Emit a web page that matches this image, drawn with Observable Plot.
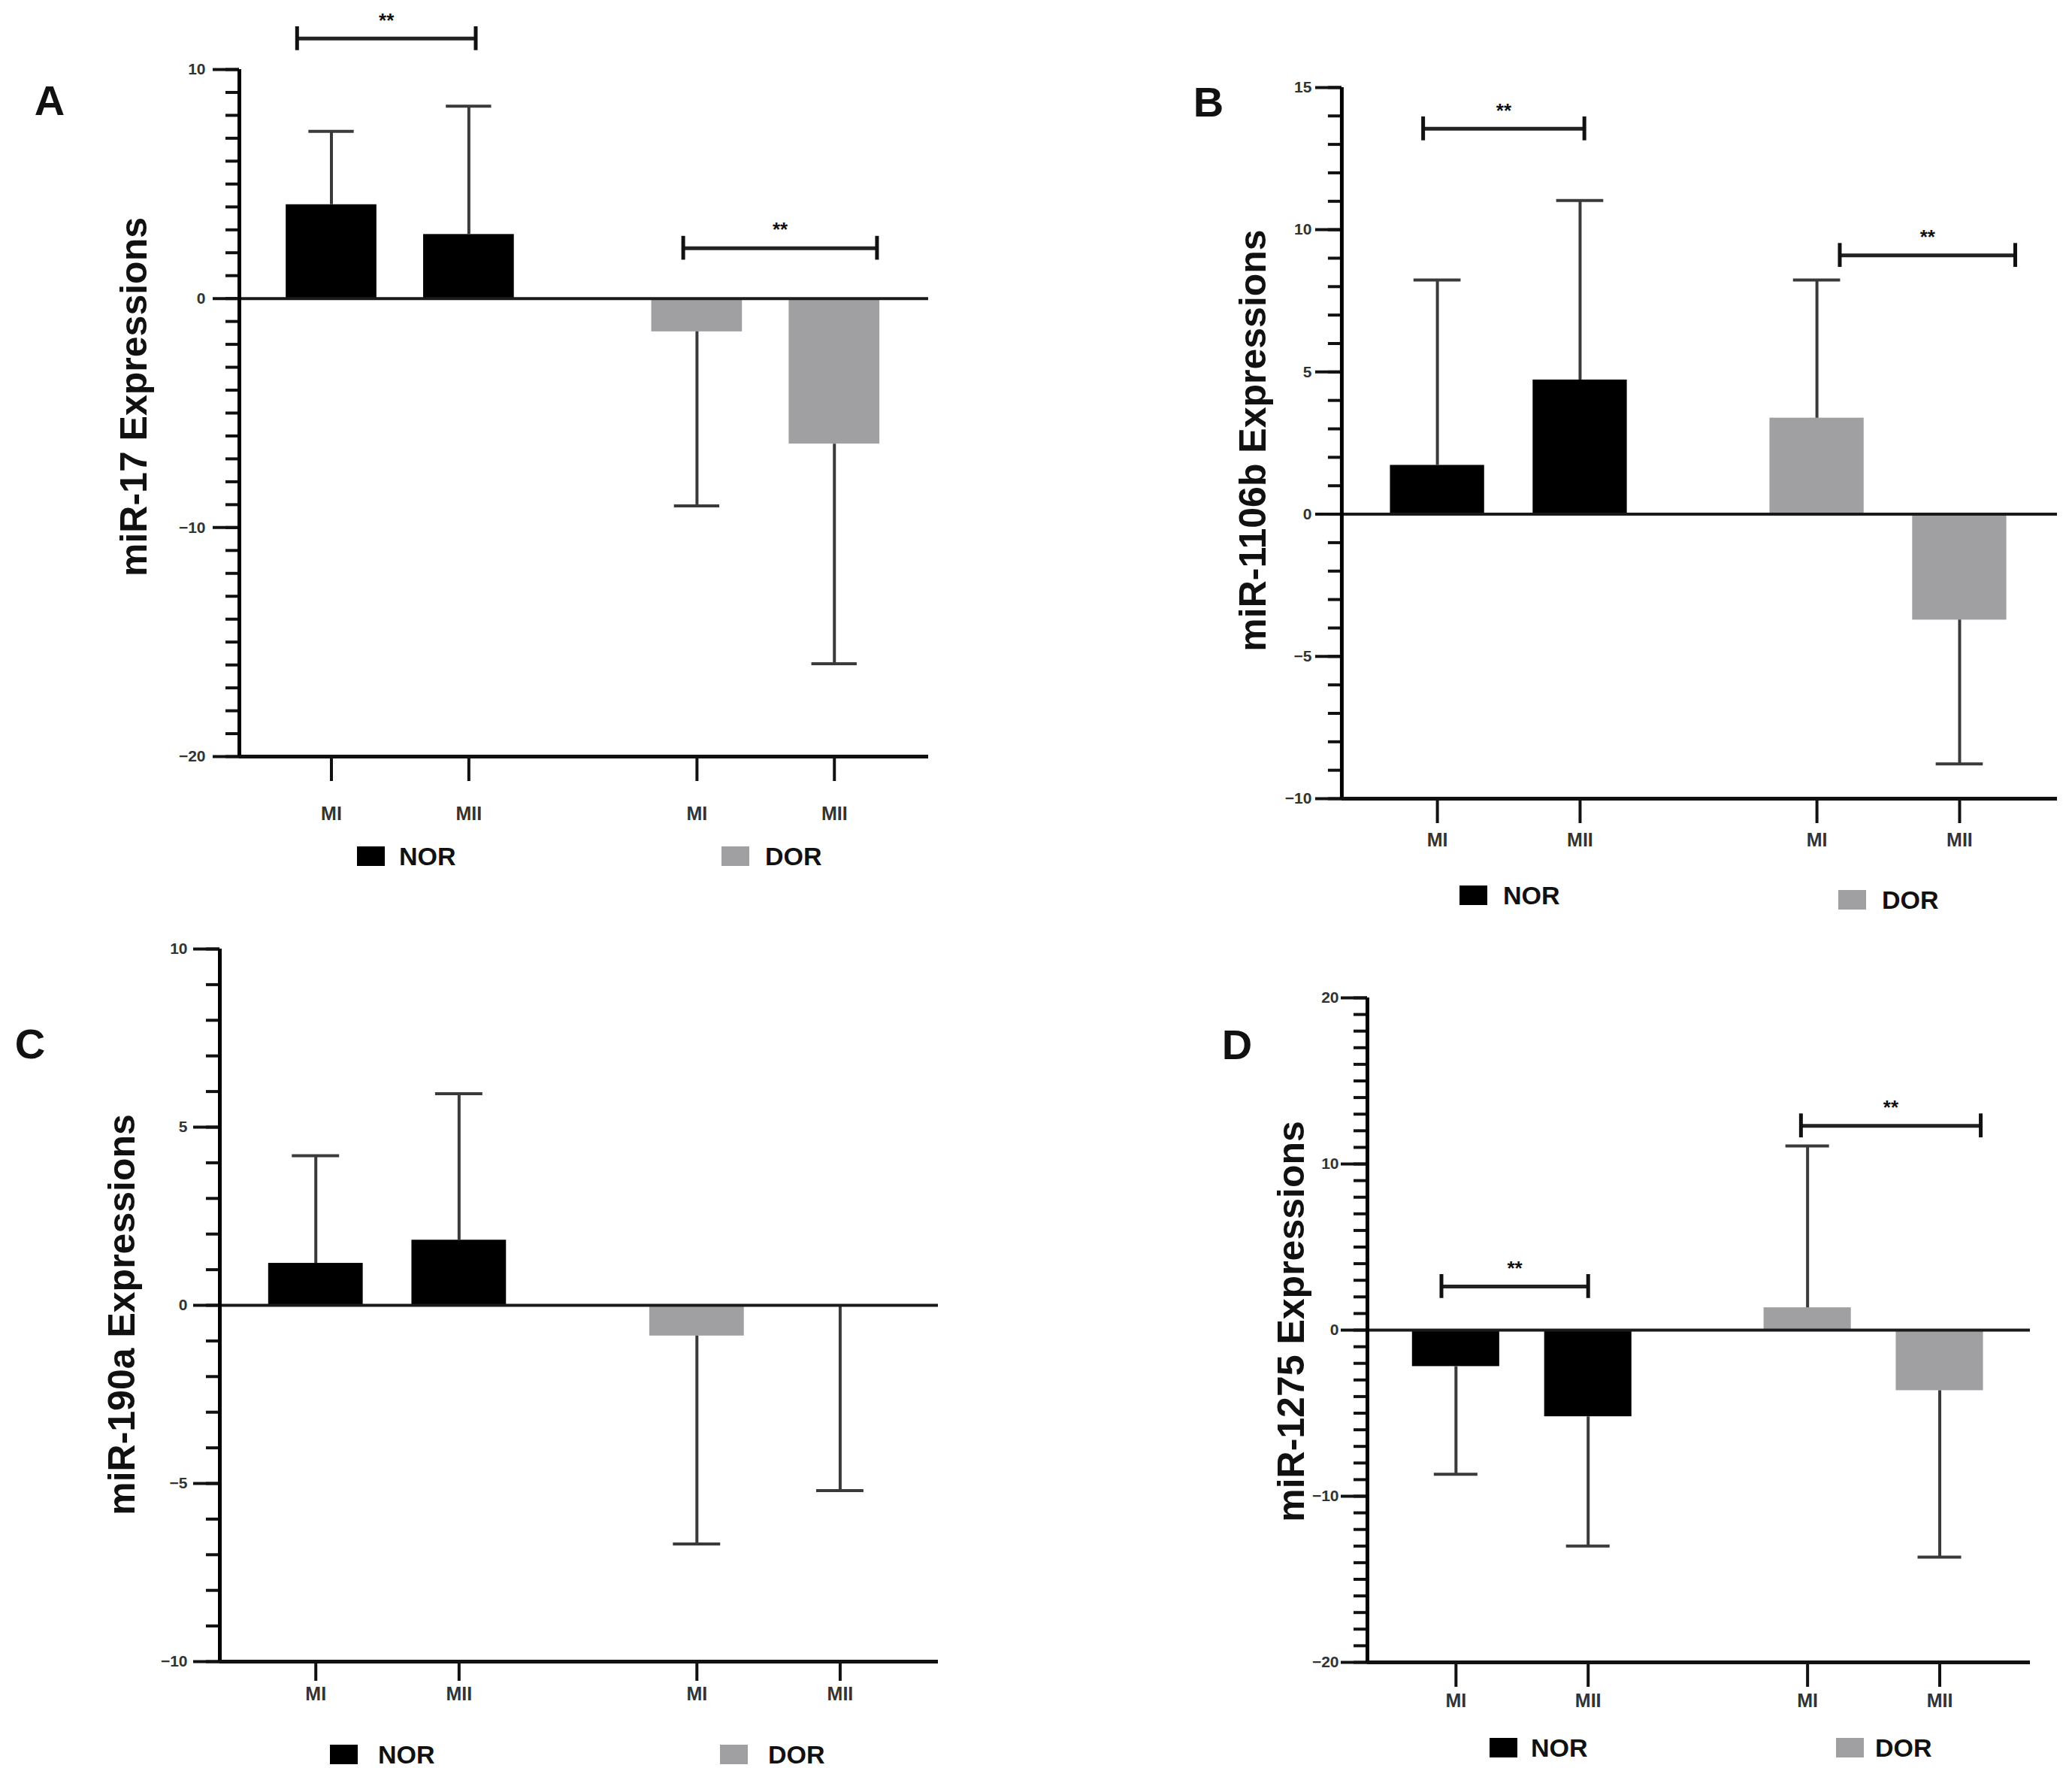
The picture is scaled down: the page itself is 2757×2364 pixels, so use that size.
<!DOCTYPE html>
<html lang="en">
<head>
<meta charset="UTF-8">
<title>miRNA expression in MI / MII oocytes</title>
<style>
  body { margin: 0; background: #ffffff; }
  #fig { position: relative; width: 2757px; height: 2364px; background: #ffffff;
         font-family: "Liberation Sans", Arial, sans-serif; color: #111; overflow: hidden; }
  .plot { position: absolute; }
  .plot svg { overflow: visible; }
  .letter { position: absolute; font-size: 56px; font-weight: bold; line-height: 1;
            transform: translate(-50%, -50%); }
  .ytitle { position: absolute; font-size: 50px; font-weight: bold; line-height: 1; white-space: nowrap;
            transform: translate(-50%, -50%) rotate(-90deg); color: #111; }
  .key { position: absolute; width: 37px; height: 26px; transform: translateY(-50%); }
  .keytext { position: absolute; font-size: 34px; font-weight: bold; line-height: 1;
             transform: translateY(-50%); color: #111; }
</style>
</head>
<body>
<div id="fig"></div>

<script src="https://cdn.jsdelivr.net/npm/d3@7"></script>
<script src="https://cdn.jsdelivr.net/npm/@observablehq/plot@0.6"></script>
<script>
// --- data ---
const stages = ["MI", "MII", "MI", "MII"];
const groups = ["NOR", "NOR", "DOR", "DOR"];
const groupNames = ["NOR", "DOR"];

// mean (bar) and end of the error bar for each stage
const mir17Mean = [4.1, 2.8, -1.45, -6.35];
const mir17Err = [7.3, 8.4, -9.05, -15.95];

const mir1106bMean = [1.72, 4.72, 3.38, -3.72];
const mir1106bErr = [8.23, 11.03, 8.23, -8.78];

const mir190aMean = [1.18, 1.83, -0.86, 0];
const mir190aErr = [4.2, 5.94, -6.7, -5.2];

const mir1275Mean = [-2.19, -5.21, 1.35, -3.64];
const mir1275Err = [-8.68, -13.0, 11.09, -13.67];

// y axis tick labels
const ticksA = [10, 0, -10, -20];
const ticksB = [15, 10, 5, 0, -5, -10];
const ticksC = [10, 5, 0, -5, -10];
const ticksD = [20, 10, 0, -10, -20];

// significance brackets (**)
const sigA = [{x1: 0.75, x2: 2.05, y: 11.35, label: "**"}, {x1: 3.56, x2: 4.97, y: 2.2, label: "**"}];
const sigB = [{x1: 0.9, x2: 2.03, y: 13.55, label: "**"}, {x1: 3.82, x2: 5.05, y: 9.1, label: "**"}];
const sigC = [];
const sigD = [{x1: 0.89, x2: 2.0, y: 2.63, label: "**"}, {x1: 3.61, x2: 4.97, y: 12.3, label: "**"}];

// --- layout ---
const GAP = 0.66;            // extra space between the NOR and DOR groups
const XDOMAIN = [0.33, 5.345];
const HALF = 0.33;           // half bar width
const CAP = 0.165;           // half error cap width
const positions = stages.map((s, i) => i + 1 + (i >= 2 ? GAP : 0));
const stageAt = new Map(positions.map((p, i) => [p, stages[i]]));
const FONT = '"Liberation Sans", Arial, sans-serif';

const fig = document.getElementById("fig");

function panel(cfg) {
  const rows = positions.map((p, i) => ({pos: p, group: groups[i], mean: cfg.mean[i], err: cfg.err[i]}));
  const [lo, hi] = cfg.domain;
  const minor = d3.range(lo, hi + 1, 1);
  const capH = cfg.capH;

  const chart = Plot.plot({
    width: cfg.width,
    height: cfg.height,
    marginLeft: cfg.marginLeft,
    marginRight: 20,
    marginTop: cfg.marginTop,
    marginBottom: 100,
    x: {domain: XDOMAIN},
    y: {domain: cfg.domain},
    color: {domain: groupNames, range: ["#000000", "#a0a0a2"]},
    style: {fontFamily: FONT, background: "transparent", color: "#111"},
    marks: [
      Plot.rectY(rows, {x1: d => d.pos - HALF, x2: d => d.pos + HALF, y1: 0, y2: "mean", fill: "group"}),
      Plot.ruleX(rows, {x: "pos", y1: "mean", y2: "err", stroke: "#3a3a3a", strokeWidth: 4}),
      Plot.ruleY(rows, {y: "err", x1: d => d.pos - CAP, x2: d => d.pos + CAP, stroke: "#3a3a3a", strokeWidth: 4}),
      Plot.ruleY([0], {stroke: "#1a1a1a", strokeWidth: 4}),
      // minor ticks
      Plot.axisY({ticks: minor, tickSize: 18, fill: "none", label: null, stroke: "#111", strokeWidth: 4}),
      // major ticks with labels
      Plot.axisY({ticks: cfg.ticks, tickSize: 35, tickPadding: cfg.yPad, label: null, tickFormat: d3.format("d"),
                  fontSize: 21, fontWeight: "bold", fill: "#333", stroke: "#111", strokeWidth: 4}),
      Plot.axisX({ticks: positions, tickSize: cfg.xTick, tickPadding: cfg.xPad, label: null,
                  tickFormat: d => stageAt.get(d), fontSize: 25, fontWeight: "bold", fill: "#333",
                  stroke: "#111", strokeWidth: 4}),
      Plot.ruleX([XDOMAIN[0]], {stroke: "#000", strokeWidth: 5}),
      Plot.ruleY([lo], {stroke: "#111", strokeWidth: 5}),
      // significance brackets
      Plot.ruleY(cfg.sig, {y: "y", x1: "x1", x2: "x2", stroke: "#222", strokeWidth: 5}),
      Plot.ruleX(cfg.sig, {x: "x1", y1: d => d.y - capH, y2: d => d.y + capH, stroke: "#111", strokeWidth: 5}),
      Plot.ruleX(cfg.sig, {x: "x2", y1: d => d.y - capH, y2: d => d.y + capH, stroke: "#111", strokeWidth: 5}),
      Plot.text(cfg.sig, {x: d => (d.x1 + d.x2) / 2, y: "y", text: "label", dy: -24,
                          fontSize: 26, fontWeight: "bold", fill: "#111"})
    ]
  });

  const box = document.createElement("div");
  box.className = "plot";
  box.style.left = cfg.left + "px";
  box.style.top = cfg.top + "px";
  box.append(chart);
  fig.append(box);

  const letter = document.createElement("div");
  letter.className = "letter";
  letter.textContent = cfg.letter;
  letter.style.left = cfg.letterXY[0] + "px";
  letter.style.top = cfg.letterXY[1] + "px";
  fig.append(letter);

  const title = document.createElement("div");
  title.className = "ytitle";
  title.textContent = cfg.title;
  title.style.left = cfg.titleXY[0] + "px";
  title.style.top = cfg.titleXY[1] + "px";
  fig.append(title);

  cfg.legend.forEach((l, i) => {
    const sw = document.createElement("div");
    sw.className = "key";
    sw.style.left = l[0] + "px";
    sw.style.top = l[1] + "px";
    sw.style.background = i === 0 ? "#000000" : "#a0a0a2";
    fig.append(sw);
    const t = document.createElement("div");
    t.className = "keytext";
    t.textContent = groupNames[i];
    t.style.left = l[2] + "px";
    t.style.top = l[1] + "px";
    fig.append(t);
  });
}

// A: frame x 318..1235, y 92..1006
panel({
  letter: "A", letterXY: [66, 134], title: "miR-17 Expressions", titleXY: [178, 528],
  mean: mir17Mean, err: mir17Err, ticks: ticksA, domain: [-20, 10], sig: sigA, capH: 0.52,
  left: 208, top: 0, marginLeft: 110, marginTop: 92, width: 110 + 917 + 20, height: 92 + 914 + 100,
  yPad: 10, xTick: 33, xPad: 34,
  legend: [[475, 1139, 531], [960, 1139, 1018]]
});

// B: frame x 1785..2738, y 116..1063
panel({
  letter: "B", letterXY: [1608, 136], title: "miR-1106b Expressions", titleXY: [1667, 586],
  mean: mir1106bMean, err: mir1106bErr, ticks: ticksB, domain: [-10, 15], sig: sigB, capH: 0.42,
  left: 1675, top: 0, marginLeft: 110, marginTop: 116, width: 110 + 953 + 20, height: 116 + 947 + 100,
  yPad: 5, xTick: 33, xPad: 13,
  legend: [[1942, 1191, 2000], [2446, 1197, 2504]]
});

// C: frame x 292..1248, y 1262..2210
panel({
  letter: "C", letterXY: [40, 1389], title: "miR-190a Expressions", titleXY: [162, 1749],
  mean: mir190aMean, err: mir190aErr, ticks: ticksC, domain: [-10, 10], sig: sigC, capH: 0.3,
  left: 182, top: 1182, marginLeft: 110, marginTop: 80, width: 110 + 956 + 20, height: 80 + 948 + 100,
  yPad: 8, xTick: 26, xPad: 8,
  legend: [[439, 2334, 503], [958, 2334, 1022]]
});

// D: frame x 1819..2701, y 1327..2211
panel({
  letter: "D", letterXY: [1646, 1390], title: "miR-1275 Expressions", titleXY: [1718, 1758],
  mean: mir1275Mean, err: mir1275Err, ticks: ticksD, domain: [-20, 20], sig: sigD, capH: 0.72,
  left: 1709, top: 1247, marginLeft: 110, marginTop: 80, width: 110 + 882 + 20, height: 80 + 884 + 100,
  yPad: 3, xTick: 33, xPad: 9,
  legend: [[1982, 2325, 2037], [2443, 2325, 2495]]
});
</script>
</body>
</html>
